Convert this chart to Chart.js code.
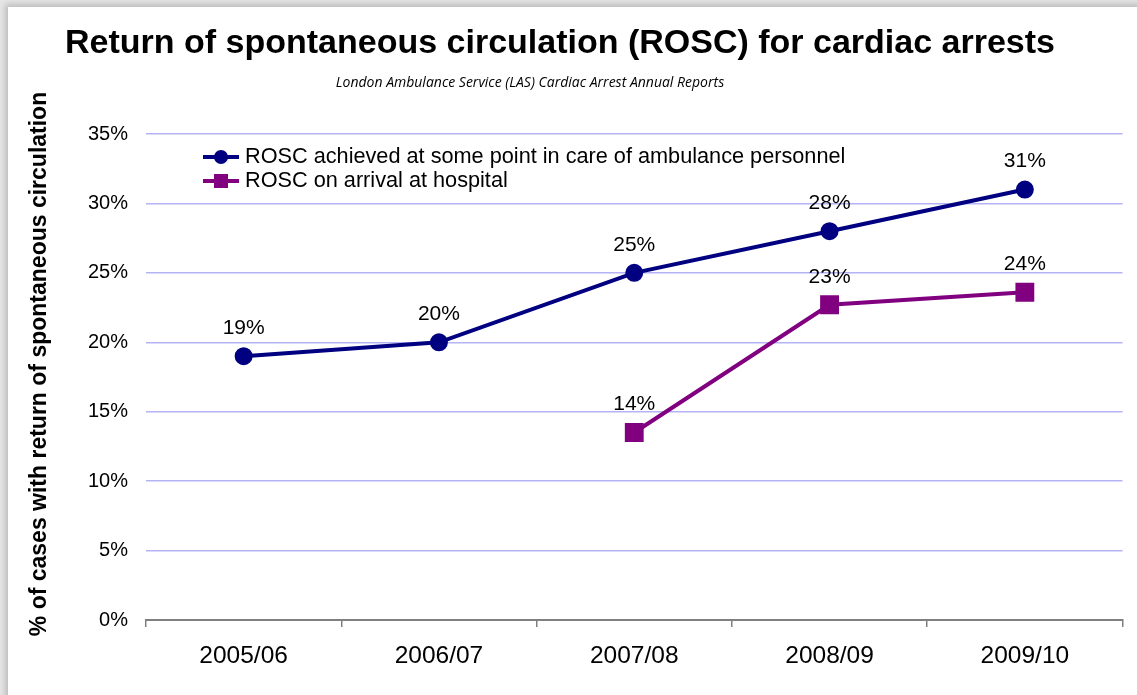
<!DOCTYPE html>
<html>
<head>
<meta charset="utf-8">
<script src="https://cdn.jsdelivr.net/npm/chart.js@4.4.1/dist/chart.umd.min.js"></script>
<style>
  body { margin: 0; background: #e6e6e6; overflow: hidden; }
  .wrap { position: relative; width: 1137px; height: 695px; }
  .card {
    position: absolute; left: 8px; top: 7px; width: 1160px; height: 720px;
    background: #fff; box-shadow: -3px -3px 6px rgba(0,0,0,0.18);
  }
  canvas { position: absolute; left: 0; top: 0; }
</style>
</head>
<body>
<div class="wrap">
  <div class="card"></div>
  <canvas id="myGraph" width="1137" height="695"></canvas>
</div>
<script>
const years = ["2005/06", "2006/07", "2007/08", "2008/09", "2009/10"];
const roscAmbulance = [19, 20, 25, 28, 31];
const roscArrival = [null, null, 13.5, 22.7, 23.6];
const yTicks = [0, 5, 10, 15, 20, 25, 30, 35];

const titleText = "Return of spontaneous circulation (ROSC) for cardiac arrests";
const subtitleText = "London Ambulance Service (LAS) Cardiac Arrest Annual Reports";
const yTitleText = "% of cases with return of spontaneous circulation";

const navy = "#000080";
const purple = "#800080";

// title, subtitle, y title, legend and point labels
const extras = {
  id: "extras",
  afterDraw(chart) {
    const ctx = chart.ctx;
    ctx.save();
    ctx.fillStyle = "#000";
    ctx.textAlign = "center";
    ctx.textBaseline = "middle";
    ctx.font = "bold 34px 'Liberation Sans', Arial, sans-serif";
    ctx.fillText(titleText, 560, 44);
    ctx.font = "italic 14px 'Open Sans', sans-serif";
    ctx.fillText(subtitleText, 530, 83);

    ctx.save();
    ctx.translate(40, 364);
    ctx.rotate(-Math.PI / 2);
    ctx.font = "bold 23px 'Liberation Sans', Arial, sans-serif";
    ctx.fillText(yTitleText, 0, 0);
    ctx.restore();

    // legend
    ctx.textAlign = "left";
    ctx.font = "21.7px 'Liberation Sans', Arial, sans-serif";
    chart.data.datasets.forEach((ds, i) => {
      const y = 157 + i * 24;
      ctx.strokeStyle = ds.borderColor;
      ctx.lineWidth = 4;
      ctx.beginPath();
      ctx.moveTo(203, y);
      ctx.lineTo(239, y);
      ctx.stroke();
      ctx.fillStyle = ds.borderColor;
      if (ds.pointStyle === "rect") {
        ctx.fillRect(214, y - 7, 14, 14);
      } else {
        ctx.beginPath();
        ctx.arc(221, y, 7, 0, Math.PI * 2);
        ctx.fill();
      }
      ctx.fillStyle = "#000";
      ctx.fillText(ds.label, 245, y);
    });

    // point labels
    ctx.textAlign = "center";
    ctx.font = "21px 'Liberation Sans', Arial, sans-serif";
    chart.data.datasets.forEach((ds, i) => {
      chart.getDatasetMeta(i).data.forEach((pt, j) => {
        const v = ds.data[j];
        if (v == null) return;
        ctx.fillText(Math.round(v) + "%", pt.x, pt.y - 28);
      });
    });
    ctx.restore();
  },
};

new Chart(document.getElementById("myGraph"), {
  type: "line",
  data: {
    labels: years,
    datasets: [
      {
        label: "ROSC achieved at some point in care of ambulance personnel",
        data: roscAmbulance,
        borderColor: navy,
        backgroundColor: navy,
        borderWidth: 4,
        pointStyle: "circle",
        pointRadius: 7,
        pointHoverRadius: 7,
      },
      {
        label: "ROSC on arrival at hospital",
        data: roscArrival,
        borderColor: purple,
        backgroundColor: purple,
        borderWidth: 4,
        pointStyle: "rect",
        pointRadius: 10.5,
        pointHoverRadius: 10.5,
      },
    ],
  },
  options: {
    responsive: false,
    animation: false,
    layout: { padding: { top: 134, right: 14, left: 0, bottom: 0 } },
    scales: {
      x: {
        offset: true,
        afterFit: (s) => { s.height = 75; },
        grid: {
          offset: true,
          drawOnChartArea: false,
          tickLength: 7,
          color: "#808080",
          lineWidth: 1.5,
        },
        border: { color: "#808080", width: 2 },
        ticks: {
          color: "#000",
          padding: 15,
          font: { family: "'Liberation Sans', Arial, sans-serif", size: 24.5 },
        },
      },
      y: {
        min: 0,
        max: 35,
        afterFit: (s) => { s.width = 146; },
        afterBuildTicks: (s) => { s.ticks = yTicks.map((v) => ({ value: v })); },
        grid: {
          drawTicks: false,
          lineWidth: 1.5,
          color: (c) => (c.tick && c.tick.value === 0 ? "rgba(0,0,0,0)" : "#b3b3f5"),
        },
        border: { display: false },
        ticks: {
          color: "#000",
          padding: 18,
          callback: (v) => v + "%",
          font: { family: "'Liberation Sans', Arial, sans-serif", size: 20 },
        },
      },
    },
    plugins: {
      legend: { display: false },
      tooltip: { enabled: false },
    },
  },
  plugins: [extras],
});
</script>
</body>
</html>
